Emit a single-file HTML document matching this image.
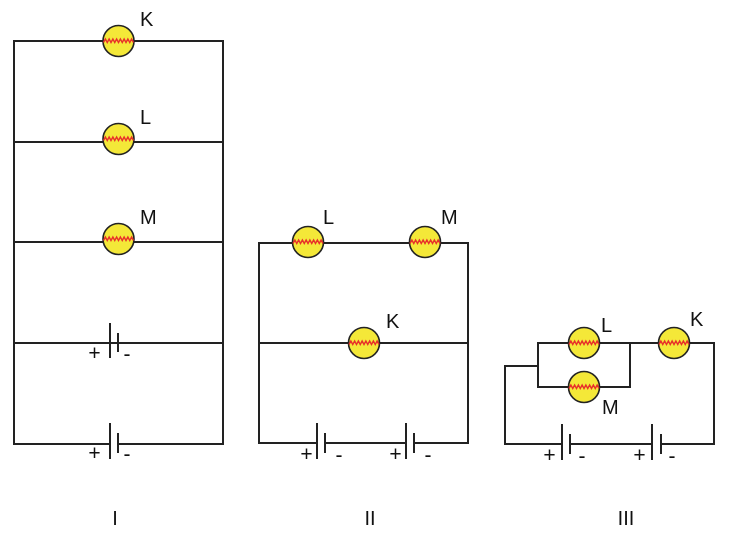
<!DOCTYPE html>
<html>
<head>
<meta charset="utf-8">
<style>
  html,body{margin:0;padding:0;background:#fff;}
  svg{display:block;}
  text{font-family:"Liberation Sans",sans-serif;fill:#111;}
</style>
</head>
<body>
<svg width="736" height="536" viewBox="0 0 736 536" xmlns="http://www.w3.org/2000/svg">
  <defs>
    <g id="b">
      <circle r="15.5" fill="#f4e838" stroke="#222" stroke-width="1.6"/>
      <path d="M-15 1.5 l1.875 -3.5 1.875 3.5 1.875 -3.5 1.875 3.5 1.875 -3.5 1.875 3.5 1.875 -3.5 1.875 3.5 1.875 -3.5 1.875 3.5 1.875 -3.5 1.875 3.5 1.875 -3.5 1.875 3.5 1.875 -3.5 1.875 3.5" fill="none" stroke="#e8302a" stroke-width="1.4"/>
    </g>
  </defs>

  <g stroke="#222" stroke-width="2" fill="none" stroke-linecap="square">
    <!-- Circuit I -->
    <line x1="14" y1="41" x2="14" y2="444"/>
    <line x1="223" y1="41" x2="223" y2="444"/>
    <line x1="14" y1="41" x2="223" y2="41"/>
    <line x1="14" y1="142" x2="223" y2="142"/>
    <line x1="14" y1="242" x2="223" y2="242"/>
    <line x1="14" y1="343" x2="223" y2="343"/>
    <line x1="14" y1="444" x2="110" y2="444"/>
    <line x1="118" y1="444" x2="223" y2="444"/>
    <line x1="110" y1="323" x2="110" y2="358" stroke-linecap="butt"/>
    <line x1="118" y1="333" x2="118" y2="352" stroke-linecap="butt"/>
    <line x1="110" y1="423" x2="110" y2="459" stroke-linecap="butt"/>
    <line x1="118" y1="433" x2="118" y2="453" stroke-linecap="butt"/>

    <!-- Circuit II -->
    <line x1="259" y1="243" x2="259" y2="443"/>
    <line x1="468" y1="243" x2="468" y2="443"/>
    <line x1="259" y1="243" x2="468" y2="243"/>
    <line x1="259" y1="343" x2="468" y2="343"/>
    <line x1="259" y1="443" x2="317" y2="443"/>
    <line x1="325" y1="443" x2="406" y2="443"/>
    <line x1="414" y1="443" x2="468" y2="443"/>
    <line x1="317" y1="423" x2="317" y2="459" stroke-linecap="butt"/>
    <line x1="325" y1="433" x2="325" y2="453" stroke-linecap="butt"/>
    <line x1="406" y1="423" x2="406" y2="459" stroke-linecap="butt"/>
    <line x1="414" y1="433" x2="414" y2="453" stroke-linecap="butt"/>

    <!-- Circuit III -->
    <line x1="505" y1="366" x2="505" y2="444"/>
    <line x1="505" y1="366" x2="538" y2="366"/>
    <line x1="538" y1="343" x2="538" y2="387"/>
    <line x1="538" y1="343" x2="714" y2="343"/>
    <line x1="538" y1="387" x2="630" y2="387"/>
    <line x1="630" y1="343" x2="630" y2="387"/>
    <line x1="714" y1="343" x2="714" y2="444"/>
    <line x1="505" y1="444" x2="562" y2="444"/>
    <line x1="570" y1="444" x2="652" y2="444"/>
    <line x1="661" y1="444" x2="714" y2="444"/>
    <line x1="562" y1="424" x2="562" y2="460" stroke-linecap="butt"/>
    <line x1="570" y1="434" x2="570" y2="454" stroke-linecap="butt"/>
    <line x1="652" y1="424" x2="652" y2="460" stroke-linecap="butt"/>
    <line x1="661" y1="434" x2="661" y2="454" stroke-linecap="butt"/>
  </g>

  <!-- Bulbs -->
  <use href="#b" x="118.5" y="41"/>
  <use href="#b" x="118.5" y="139"/>
  <use href="#b" x="118.5" y="239"/>
  <use href="#b" x="308" y="242"/>
  <use href="#b" x="425" y="242"/>
  <use href="#b" x="364" y="343"/>
  <use href="#b" x="584" y="343"/>
  <use href="#b" x="584" y="387"/>
  <use href="#b" x="674" y="343"/>

  <!-- Bulb labels -->
  <g font-size="20">
    <text x="140" y="26">K</text>
    <text x="140" y="124">L</text>
    <text x="140" y="224">M</text>
    <text x="323" y="224">L</text>
    <text x="441" y="224">M</text>
    <text x="386" y="328">K</text>
    <text x="601" y="332">L</text>
    <text x="690" y="326">K</text>
    <text x="602" y="414">M</text>
  </g>

  <!-- Battery polarity -->
  <g font-size="21" text-anchor="middle">
    <text x="94.5" y="360">+</text>
    <text x="127" y="361">-</text>
    <text x="94.5" y="460">+</text>
    <text x="127" y="461">-</text>
    <text x="306.5" y="461">+</text>
    <text x="339" y="462">-</text>
    <text x="395.5" y="461">+</text>
    <text x="428" y="462">-</text>
    <text x="549.5" y="462">+</text>
    <text x="582" y="463">-</text>
    <text x="639.5" y="462">+</text>
    <text x="672" y="463">-</text>
  </g>

  <!-- Roman numerals -->
  <g font-size="20" text-anchor="middle">
    <text x="115" y="525">I</text>
    <text x="370" y="525">II</text>
    <text x="626" y="525">III</text>
  </g>
</svg>
</body>
</html>
